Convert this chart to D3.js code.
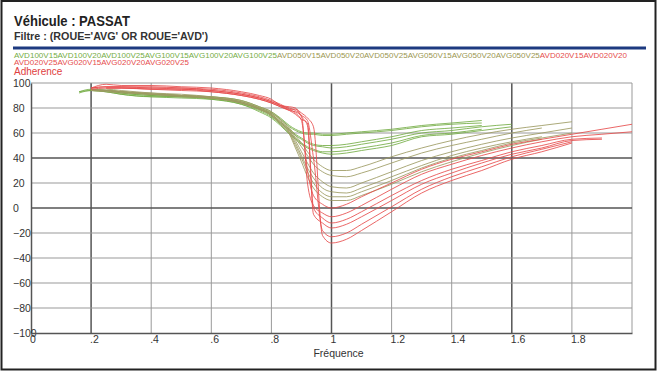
<!DOCTYPE html>
<html>
<head>
<meta charset="utf-8">
<script src="https://cdn.jsdelivr.net/npm/d3@7"></script>
<style>
  body { margin: 0; background: #fff; }
  svg { font-family: "Liberation Sans", Arial, sans-serif; }
</style>
</head>
<body>
<svg width="660" height="372"></svg>
<script>
// frequency grid shared by every curve (null = no measure at that frequency)
var freq = [0.16, 0.2, 0.25, 0.3, 0.4, 0.5, 0.6, 0.7, 0.76, 0.8, 0.83, 0.86, 0.88, 0.9, 0.92, 0.94, 0.97, 1.0, 1.05, 1.1, 1.2, 1.3, 1.4, 1.5, 1.6, 1.7, 1.8, 1.9, 2.0];

var seriesNames = ["AVD100V15", "AVD100V20", "AVD100V25", "AVG100V15", "AVG100V20", "AVG100V25",
                   "AVD050V15", "AVD050V20", "AVD050V25", "AVG050V15", "AVG050V20", "AVG050V25",
                   "AVD020V15", "AVD020V20", "AVD020V25", "AVG020V15", "AVG020V20", "AVG020V25"];

// Roue 100 (green)
var green = [
  [93, 94, 94, 93, 91, 90, 89, 86, 81, 77, 72, 66, 63, 61, 60, 60, 59, 59, 60, 61, 63, 66, 68, 70, null, null, null, null, null],
  [null, 94, 94, 93, 91, 90, 88, 85, 80, 76, 71, 65, 62, 60, 59, 59, 58, 58, 59, 60, 62, 65, 67, 68, null, null, null, null, null],
  [null, 94, 94, 92, 90, 89, 88, 84, 79, 75, 69, 63, 59, 56, 53, 51, 50, 50, 51, 53, 57, 62, 64, 66, null, null, null, null, null],
  [93, 95, 94, 92, 90, 89, 88, 84, 79, 74, 68, 62, 58, 55, 52, 50, 49, 48, 49, 51, 55, 60, 62, 65, 67, null, null, null, null],
  [null, 94, 93, 91, 89, 89, 87, 83, 78, 73, 67, 60, 56, 52, 49, 47, 45, 45, 46, 48, 52, 58, 60, 63, null, null, null, null, null],
  [92, 94, 93, 91, 89, 88, 87, 83, 77, 72, 66, 59, 55, 51, 48, 46, 44, 43, 44, 46, 50, 57, 59, 62, 65, null, null, null, null]
];

// Roue 050 (olive)
var olive = [
  [null, 95, 95, 94, 92, 91, 89, 86, 81, 77, 71, 64, 58, 52, 45, 39, 33, 30, 30, 33, 41, 48, 54, 59, 63, 66, 69, null, null],
  [null, 95, 94, 93, 92, 90, 89, 85, 80, 76, 70, 63, 56, 49, 42, 35, 29, 26, 25, 28, 36, 44, 50, 55, 60, 64, null, null, null],
  [null, 95, 94, 93, 91, 90, 88, 85, 80, 75, 69, 62, 54, 45, 36, 28, 21, 17, 16, 20, 29, 38, 45, 51, 56, 60, 64, null, null],
  [null, 94, 94, 93, 91, 90, 88, 84, 79, 75, 68, 61, 52, 42, 32, 24, 16, 13, 12, 16, 25, 34, 42, 48, 53, 57, null, null, null],
  [null, 94, 94, 93, 91, 90, 88, 84, 79, 74, 68, 60, 50, 40, 29, 20, 12, 9, 9, 13, 22, 32, 40, 46, 52, 56, 60, null, null],
  [null, 94, 93, 92, 91, 89, 88, 84, 79, 74, 67, 59, 48, 37, 25, 16, 9, 6, 6, 10, 19, 29, 37, 44, 50, 55, null, null, null]
];

// Roue 020 (red)
var red = [
  [null, 96, 97, 97, 97, 96, 95, 92, 89, 86, 83, 79, 76, 70, 30, 10, 3, 0, 3, 9, 20, 31, 39, 45, 51, 55, 59, 63, 67],
  [null, 96, 99, 98, 98, 97, 96, 93, 90, 87, 82, 80, 78, 74, 20, 2, -4, -7, -4, 2, 15, 27, 35, 42, 48, 53, 57, 59, 61],
  [null, null, 96, 96, 96, 95, 94, 91, 88, 85, 82, 78, 75, 71, 68, 0, -8, -12, -9, -3, 10, 22, 31, 38, 45, 50, 55, 56, null],
  [null, 96, 97, 97, 96, 96, 94, 91, 88, 85, 82, 81, 80, 73, 66, -5, -12, -16, -13, -7, 6, 19, 28, 36, 43, 48, 54, 55, null],
  [null, null, 96, 96, 95, 94, 93, 90, 87, 84, 81, 78, 77, 74, 70, 40, -18, -23, -20, -13, 1, 15, 25, 33, 41, 47, 53, null, null],
  [null, 95, 96, 96, 95, 95, 93, 90, 87, 84, 81, 79, 79, 76, 72, 65, -22, -28, -25, -18, -3, 12, 22, 30, 39, 45, 52, null, null]
];

var groupColors = ["#74ad45", "#9c9a62", "#e64c4c"];
var groups = [green, olive, red];

var xTicks = [0, 0.2, 0.4, 0.6, 0.8, 1, 1.2, 1.4, 1.6, 1.8];
var xTickLabels = ["0", ".2", ".4", ".6", ".8", "1", "1.2", "1.4", "1.6", "1.8"];
var yTicks = [100, 80, 60, 40, 20, 0, -20, -40, -60, -80, -100];
var darkX = [0.2, 1, 1.6];
var darkY = [40, 0];

var svg = d3.select('svg'),
    width = +svg.attr("width"),
    height = +svg.attr("height");

var margin = {top: 83, right: 28, bottom: 39, left: 31};
var innerWidth = width - margin.left - margin.right;
var innerHeight = height - margin.top - margin.bottom;

// outer frame
svg.append('rect')
    .attr('x', 1.5).attr('y', 1)
    .attr('width', 654).attr('height', 368.5)
    .attr('fill', 'none')
    .attr('stroke', '#222')
    .attr('stroke-width', 2);

// header
svg.append('text')
    .attr('x', 14).attr('y', 26)
    .attr('font-size', 14).attr('font-weight', 'bold').attr('fill', '#222')
    .attr('textLength', 116).attr('lengthAdjust', 'spacingAndGlyphs')
    .text('Véhicule : PASSAT');

svg.append('text')
    .attr('x', 14).attr('y', 40)
    .attr('font-size', 10).attr('font-weight', 'bold').attr('fill', '#333')
    .attr('textLength', 194).attr('lengthAdjust', 'spacingAndGlyphs')
    .text("Filtre : (ROUE='AVG' OR ROUE='AVD')");

svg.append('line')
    .attr('x1', 13).attr('x2', 646)
    .attr('y1', 48).attr('y2', 48)
    .attr('stroke', '#1d3a80').attr('stroke-width', 3);

// legend: names run together, coloured per group
var legend1 = svg.append('text')
    .attr('x', 14).attr('y', 57.5)
    .attr('font-size', 7)
    .attr('textLength', 613).attr('lengthAdjust', 'spacingAndGlyphs');
legend1.append('tspan').attr('fill', groupColors[0]).text(seriesNames.slice(0, 6).join(''));
legend1.append('tspan').attr('fill', '#9a9650').text(seriesNames.slice(6, 12).join(''));
legend1.append('tspan').attr('fill', groupColors[2]).text(seriesNames.slice(12, 14).join(''));

svg.append('text')
    .attr('x', 14).attr('y', 65)
    .attr('font-size', 7)
    .attr('fill', groupColors[2])
    .attr('textLength', 175).attr('lengthAdjust', 'spacingAndGlyphs')
    .text(seriesNames.slice(14).join(''));

svg.append('text')
    .attr('x', 14).attr('y', 75)
    .attr('font-size', 10).attr('fill', '#e04040')
    .text('Adherence');

//Set scales
var xScale = d3.scaleLinear()
    .domain([0, 2])
    .range([0, innerWidth]);

var yScale = d3.scaleLinear()
    .domain([-100, 100])
    .range([innerHeight, 0]);

var g = svg.append('g')
    .attr('transform', `translate(${margin.left},${margin.top})`);

// grid
g.selectAll('.vgrid').data(xTicks.slice(1).concat([2]))
    .enter().append('line')
    .attr('x1', d => xScale(d)).attr('x2', d => xScale(d))
    .attr('y1', 0).attr('y2', innerHeight)
    .attr('stroke', d => darkX.indexOf(d) >= 0 ? '#555' : '#999')
    .attr('stroke-width', d => darkX.indexOf(d) >= 0 ? 1.5 : 1);

g.selectAll('.hgrid').data(yTicks.slice(0, -1))
    .enter().append('line')
    .attr('x1', 0).attr('x2', innerWidth)
    .attr('y1', d => yScale(d)).attr('y2', d => yScale(d))
    .attr('stroke', d => darkY.indexOf(d) >= 0 ? '#555' : '#999')
    .attr('stroke-width', d => darkY.indexOf(d) >= 0 ? 1.5 : 1);

// axes: labels left-aligned at the frame margin, no tick marks
var yAxis = d3.axisLeft(yScale).tickValues(yTicks).tickSize(0).tickPadding(0);
g.append('g').call(yAxis)
    .call(a => a.select('.domain').attr('stroke', '#555').attr('stroke-width', 1.5))
    .call(a => a.selectAll('text')
        .attr('text-anchor', 'start').attr('x', 13 - margin.left)
        .attr('font-size', 10.5).attr('fill', '#333')
        .attr('font-family', '"Liberation Sans", Arial, sans-serif'));

var xAxis = d3.axisBottom(xScale)
    .tickValues(xTicks)
    .tickFormat((d, i) => xTickLabels[i])
    .tickSize(0).tickPadding(3);
g.append('g').call(xAxis)
    .attr('transform', `translate(0,${innerHeight})`)
    .call(a => a.select('.domain').attr('stroke', '#555').attr('stroke-width', 1.5))
    .call(a => a.selectAll('text')
        .attr('text-anchor', 'start').attr('x', -1.5)
        .attr('font-size', 10.5).attr('fill', '#333')
        .attr('font-family', '"Liberation Sans", Arial, sans-serif'));

g.append('text')
    .attr('x', xScale(1) + 7).attr('y', innerHeight + 24)
    .attr('text-anchor', 'middle')
    .attr('font-size', 10.5).attr('fill', '#333')
    .text('Fréquence');

//Show curves
var lineGenerator = d3.line()
    .defined(d => d[1] != null)
    .curve(d3.curveMonotoneX)
    .x(d => xScale(d[0]))
    .y(d => yScale(d[1]));

groups.forEach(function (grp, gi) {
    grp.forEach(function (vals) {
        g.append('path')
            .attr('class', 'line-path')
            .attr('fill', 'none')
            .attr('stroke', groupColors[gi])
            .attr('stroke-width', 1)
            .attr('stroke-opacity', 0.85)
            .attr('d', lineGenerator(freq.map((f, i) => [f, vals[i]])));
    });
});
</script>
</body>
</html>
